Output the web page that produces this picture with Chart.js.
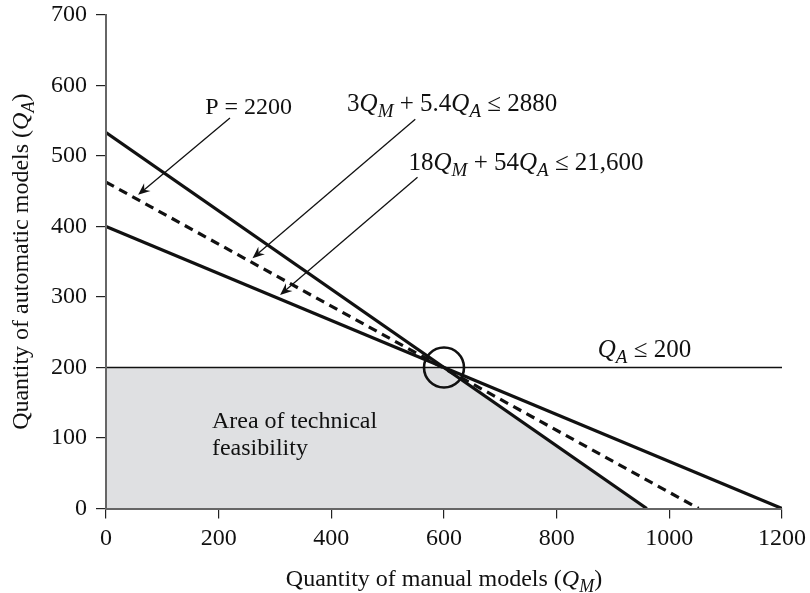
<!DOCTYPE html>
<html>
<head>
<meta charset="utf-8">
<script src="https://cdn.jsdelivr.net/npm/chart.js@4.4.1/dist/chart.umd.min.js"></script>
<style>
  html, body { margin: 0; padding: 0; background: #ffffff; }
  #wrap { width: 810px; height: 593px; }
</style>
</head>
<body>
<div id="wrap"><canvas id="chart" width="810" height="593"></canvas></div>
<script>
// Axis ticks
const xTickValues = [0, 200, 400, 600, 800, 1000, 1200];
const yTickValues = [0, 100, 200, 300, 400, 500, 600, 700];

// Machine-hours constraint: 3QM + 5.4QA <= 2880
const machineQM = [0, 960];
const machineQA = [533.33, 0];

// Labor constraint: 18QM + 54QA <= 21,600
const laborQM = [0, 1200];
const laborQA = [400, 0];

// Iso-profit line P = 2200
const profitQM = [0, 1052];
const profitQA = [463, 0];

// Capacity limit QA <= 200
const capQM = [0, 1200];
const capQA = [200, 200];

// Upper edge of the feasible region (filled down to QA = 0)
const feasibleQM = [0, 600, 960];
const feasibleQA = [200, 200, 0];

// Optimum corner
const optimumQM = [600];
const optimumQA = [200];

const pts = (xs, ys) => xs.map((x, i) => ({ x, y: ys[i] }));

const FONT = "'Liberation Serif', 'Times New Roman', serif";
const FS = 24;
const LABEL_FS = 25;
const PLOT_TOP = 15;

// Rich-text runs for labels with italic subscripted symbols
const T = (t) => ({ t });
const I = (t) => ({ t, it: true });
const S = (t) => ({ t, it: true, sub: true });

const annotations = {
  labels: [
    { runs: [T('P = 2200')], x: 176, y: 559, size: FS },
    { runs: [T('3'), I('Q'), S('M'), T(' + 5.4'), I('Q'), S('A'), T(' \u2264 2880')], x: 428, y: 564, size: LABEL_FS },
    { runs: [T('18'), I('Q'), S('M'), T(' + 54'), I('Q'), S('A'), T(' \u2264 21,600')], x: 537, y: 480, size: LABEL_FS },
    { runs: [I('Q'), S('A'), T(' \u2264 200')], x: 873, y: 215, size: LABEL_FS },
    { runs: [T('Area of technical')], x: 188, y: 114, size: FS },
    { runs: [T('feasibility')], x: 188, y: 76, size: FS }
  ],
  arrows: [
    { from: [220, 554], to: [57, 445] },
    { from: [549, 552], to: [260, 355] },
    { from: [553, 470], to: [309, 303] }
  ],
  xTitle: [T('Quantity of manual models ('), I('Q'), S('M'), T(')')],
  yTitle: [T('Quantity of automatic models ('), I('Q'), S('A'), T(')')]
};

function runFont(r, size) {
  const s = r.sub ? Math.round(size * 0.76) : size;
  return (r.it ? 'italic ' : '') + s + 'px ' + FONT;
}

function drawRich(ctx, runs, x, y, size, align) {
  let total = 0;
  runs.forEach(r => { ctx.font = runFont(r, size); r.w = ctx.measureText(r.t).width; total += r.w; });
  let cx = align === 'center' ? x - total / 2 : x;
  ctx.textBaseline = 'alphabetic';
  ctx.textAlign = 'left';
  runs.forEach(r => {
    ctx.font = runFont(r, size);
    ctx.fillText(r.t, cx, y + (r.sub ? size * 0.25 : 0));
    cx += r.w;
  });
}

function drawArrow(ctx, x1, y1, x2, y2) {
  const ang = Math.atan2(y2 - y1, x2 - x1);
  const len = 12, half = 5, notch = 8;
  ctx.save();
  ctx.strokeStyle = '#111';
  ctx.fillStyle = '#111';
  ctx.lineWidth = 1.3;
  ctx.beginPath();
  ctx.moveTo(x1, y1);
  ctx.lineTo(x2 - Math.cos(ang) * notch, y2 - Math.sin(ang) * notch);
  ctx.stroke();
  ctx.translate(x2, y2);
  ctx.rotate(ang);
  ctx.beginPath();
  ctx.moveTo(0, 0);
  ctx.lineTo(-len, -half);
  ctx.lineTo(-notch, 0);
  ctx.lineTo(-len, half);
  ctx.closePath();
  ctx.fill();
  ctx.restore();
}

const annotationPlugin = {
  id: 'econAnnotations',
  // Pin the top of the plot area so the 700 tick sits near the canvas top
  afterLayout(chart) {
    const ca = chart.chartArea;
    const y = chart.scales.y;
    ca.top = PLOT_TOP;
    ca.height = ca.bottom - PLOT_TOP;
    y.top = PLOT_TOP;
    y.height = y.bottom - PLOT_TOP;
    y.configure();
  },
  afterDraw(chart) {
    const { ctx, scales: { x, y }, chartArea } = chart;
    ctx.save();
    ctx.fillStyle = '#111';
    annotations.labels.forEach(l => {
      drawRich(ctx, l.runs, x.getPixelForValue(l.x), y.getPixelForValue(l.y), l.size, 'left');
    });
    annotations.arrows.forEach(a => {
      drawArrow(ctx,
        x.getPixelForValue(a.from[0]), y.getPixelForValue(a.from[1]),
        x.getPixelForValue(a.to[0]), y.getPixelForValue(a.to[1]));
    });
    // Axis titles
    drawRich(ctx, annotations.xTitle, (chartArea.left + chartArea.right) / 2, 586, FS, 'center');
    ctx.translate(28, (chartArea.top + chartArea.bottom) / 2);
    ctx.rotate(-Math.PI / 2);
    drawRich(ctx, annotations.yTitle, 0, 0, FS, 'center');
    ctx.restore();
  }
};

const lineStyle = {
  showLine: true,
  pointRadius: 0,
  borderColor: '#111',
  borderWidth: 3.2,
  fill: false,
  tension: 0
};

// Fixed scale boxes so the plot area sits at a known place
function noOverflow(s) {
  s.paddingLeft = 0; s.paddingRight = 0; s.paddingTop = 0; s.paddingBottom = 0;
}

new Chart(document.getElementById('chart'), {
  type: 'scatter',
  data: {
    datasets: [
      { label: 'Optimum', data: pts(optimumQM, optimumQA), showLine: false,
        pointRadius: 20, pointBorderWidth: 2.6, pointBorderColor: '#111',
        pointBackgroundColor: 'rgba(0,0,0,0)', pointStyle: 'circle' },
      { label: 'P = 2200', data: pts(profitQM, profitQA), ...lineStyle, borderDash: [9, 6] },
      { label: 'Machine hours', data: pts(machineQM, machineQA), ...lineStyle },
      { label: 'Labor hours', data: pts(laborQM, laborQA), ...lineStyle },
      { label: 'QA limit', data: pts(capQM, capQA), ...lineStyle, borderWidth: 1.5 },
      { label: 'Feasible', data: pts(feasibleQM, feasibleQA), showLine: true, pointRadius: 0,
        borderWidth: 0, borderColor: 'rgba(0,0,0,0)', backgroundColor: '#dfe0e2', fill: 'origin' }
    ]
  },
  options: {
    responsive: false,
    animation: false,
    events: [],
    layout: { padding: { top: 15, right: 28, left: 0, bottom: 0 } },
    plugins: { legend: { display: false }, tooltip: { enabled: false } },
    scales: {
      x: {
        type: 'linear', min: 0, max: 1200,
        afterFit(s) { s.height = 84.5; noOverflow(s); },
        afterBuildTicks(s) { s.ticks = xTickValues.map(v => ({ value: v })); },
        grid: { display: true, drawOnChartArea: false, drawTicks: true, tickLength: 10, color: '#222', lineWidth: 1.2 },
        border: { display: true, color: '#666', width: 2, z: 1 },
        ticks: { color: '#111', padding: 6, font: { family: FONT, size: FS }, callback: v => String(v) }
      },
      y: {
        type: 'linear', min: 0, max: 700,
        afterFit(s) { s.width = 106; noOverflow(s); },
        afterBuildTicks(s) { s.ticks = yTickValues.map(v => ({ value: v })); },
        grid: { display: true, drawOnChartArea: false, drawTicks: true, tickLength: 10, color: '#222', lineWidth: 1.2 },
        border: { display: true, color: '#666', width: 2, z: 1 },
        ticks: { color: '#111', padding: 9, font: { family: FONT, size: FS }, callback: v => String(v) }
      }
    }
  },
  plugins: [annotationPlugin]
});
</script>
</body>
</html>
